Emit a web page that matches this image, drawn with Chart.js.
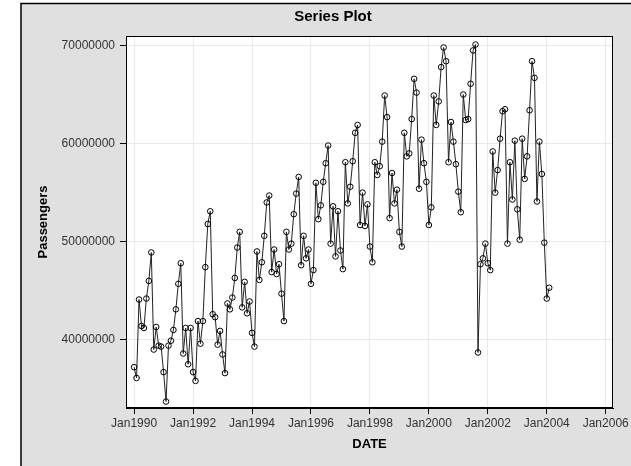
<!DOCTYPE html>
<html><head><meta charset="utf-8">
<script src="https://cdn.jsdelivr.net/npm/chart.js@4.4.0/dist/chart.umd.min.js"></script>
<style>html,body{margin:0;padding:0;background:#fff;overflow:hidden}#wrap{width:631px;height:466px;position:relative}</style>
</head><body><div id="wrap"><canvas id="c" width="631" height="466"></canvas></div>
<script>
// Monthly passengers (millions), Jan 1990 .. Feb 2004
const startYear = 1990;
const passengersMillions = [
  37.2, 36.1, 44.1, 41.4, 41.2, 44.2, 46.0, 48.9, 39.0, 41.3, 39.4, 39.3,
  36.7, 33.7, 39.4, 39.9, 41.0, 43.1, 45.7, 47.8, 38.6, 41.2, 37.5, 41.2,
  36.7, 35.8, 41.9, 39.6, 41.9, 47.4, 51.8, 53.1, 42.6, 42.3, 39.5, 40.9,
  38.5, 36.6, 43.7, 43.1, 44.3, 46.3, 49.4, 51.0, 43.3, 45.9, 42.7, 43.9,
  40.7, 39.3, 49.0, 46.1, 47.9, 50.6, 54.0, 54.7, 46.9, 49.2, 46.7, 47.7,
  44.7, 41.9, 51.0, 49.2, 49.8, 52.8, 54.9, 56.6, 47.6, 50.6, 48.3, 49.2,
  45.7, 47.1, 56.0, 52.3, 53.7, 56.1, 58.0, 59.8, 49.8, 53.6, 48.5, 53.1,
  49.1, 47.2, 58.1, 53.9, 55.6, 58.2, 61.1, 61.9, 51.7, 55.0, 51.6, 53.8,
  49.5, 47.9, 58.1, 56.8, 57.7, 60.2, 64.9, 62.7, 52.4, 57.0, 53.9, 55.3,
  51.0, 49.5, 61.1, 58.7, 59.0, 62.5, 66.6, 65.2, 55.4, 60.4, 58.0, 56.1,
  51.7, 53.5, 64.9, 61.9, 64.3, 67.8, 69.8, 68.4, 58.1, 62.2, 60.2, 57.9,
  55.1, 53.0, 65.0, 62.4, 62.5, 66.1, 69.5, 70.1, 38.7, 47.7, 48.3, 49.8,
  47.8, 47.1, 59.2, 55.0, 57.3, 60.5, 63.3, 63.5, 49.8, 58.1, 54.3, 60.3,
  53.3, 50.2, 60.5, 56.4, 58.7, 63.4, 68.4, 66.7, 54.1, 60.2, 56.9, 49.9,
  44.2, 45.3
];
// x tick positions: months since Jan 1990
const xTickMonths = [0, 24, 48, 72, 96, 120, 144, 168, 192];
const yTickValues = [40000000, 50000000, 60000000, 70000000];
const titleText = 'Series Plot';
const xTitle = 'DATE';
const yTitle = 'Passengers';

const points = passengersMillions.map((v, i) => ({ x: i, y: v * 1e6 }));

const FONT = '"Liberation Sans", Arial, sans-serif';

const decor = {
  id: 'decor',
  beforeDraw(chart) {
    const ctx = chart.ctx, a = chart.chartArea;
    ctx.save();
    ctx.fillStyle = '#ffffff';
    ctx.fillRect(0, 0, chart.width, chart.height);
    ctx.fillStyle = '#e0e0e0';
    ctx.fillRect(21, 3, chart.width, chart.height);
    ctx.strokeStyle = '#000';
    ctx.lineWidth = 1.5;
    ctx.beginPath();
    ctx.moveTo(21, chart.height + 2);
    ctx.lineTo(21, 3.5);
    ctx.lineTo(chart.width + 2, 3.5);
    ctx.stroke();
    ctx.fillStyle = '#ffffff';
    ctx.fillRect(a.left, a.top, a.right - a.left, a.bottom - a.top);
    ctx.restore();
  },
  afterDraw(chart) {
    const ctx = chart.ctx, a = chart.chartArea;
    ctx.save();
    ctx.strokeStyle = '#000';
    ctx.lineWidth = 1;
    ctx.strokeRect(Math.round(a.left) + 0.5, Math.round(a.top) + 0.5, Math.round(a.right - a.left) - 1, Math.round(a.bottom - a.top) - 1);
    ctx.fillStyle = '#000';
    ctx.textAlign = 'center';
    ctx.textBaseline = 'middle';
    ctx.font = 'bold 15px ' + FONT;
    ctx.fillText(titleText, 333, 17);
    ctx.font = 'bold 13px ' + FONT;
    ctx.fillText(xTitle, (a.left + a.right) / 2, 444);
    ctx.translate(43, (a.top + a.bottom) / 2);
    ctx.rotate(-Math.PI / 2);
    ctx.fillText(yTitle, 0, 0);
    ctx.restore();
  }
};

new Chart(document.getElementById('c'), {
  type: 'line',
  data: {
    datasets: [{
      data: points,
      borderColor: '#222',
      borderWidth: 1,
      pointRadius: 2.8,
      pointBorderWidth: 1,
      pointBorderColor: '#000',
      pointBackgroundColor: 'rgba(255,255,255,0)',
      tension: 0,
      fill: false
    }]
  },
  options: {
    responsive: false,
    animation: false,
    devicePixelRatio: 1,
    layout: { padding: { left: 0, right: 17, top: 36, bottom: 0 } },
    plugins: { legend: { display: false }, title: { display: false }, tooltip: { enabled: false } },
    scales: {
      x: {
        type: 'linear',
        min: -3.3,
        max: 195,
        afterBuildTicks: s => { s.ticks = xTickMonths.map(v => ({ value: v })); },
        afterFit: s => { s.height = 58; },
        ticks: {
          autoSkip: false, maxRotation: 0, padding: 2,
          color: '#333', font: { family: FONT, size: 12 },
          callback: v => 'Jan' + (startYear + v / 12)
        },
        grid: { color: '#e9e9e9', tickColor: '#000', tickLength: 6, drawOnChartArea: true },
        border: { display: true, color: '#000', width: 1 }
      },
      y: {
        type: 'linear',
        min: 33040000,
        max: 70970000,
        afterBuildTicks: s => { s.ticks = yTickValues.map(v => ({ value: v })); },
        afterFit: s => { s.width = 126; },
        ticks: {
          padding: 5, color: '#333', font: { family: FONT, size: 12 },
          callback: v => String(v)
        },
        grid: { color: '#e9e9e9', tickColor: '#000', tickLength: 6, drawOnChartArea: true },
        border: { display: true, color: '#000', width: 1 }
      }
    }
  },
  plugins: [decor]
});
</script></body></html>
